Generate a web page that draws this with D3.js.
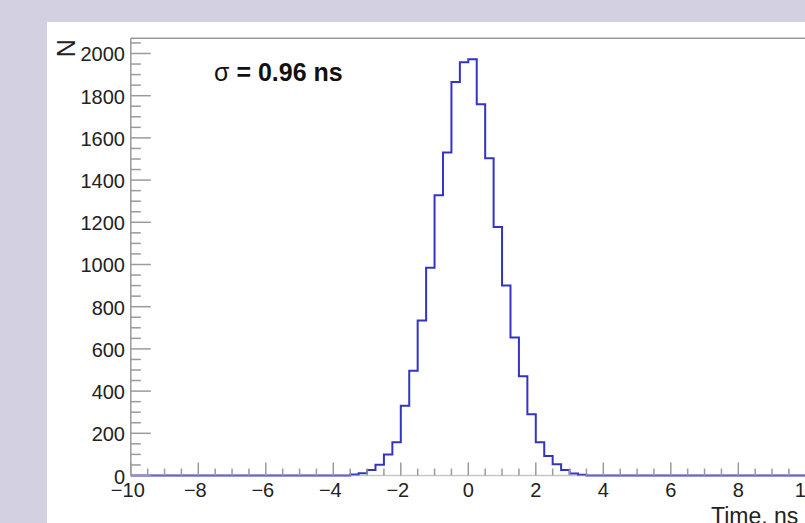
<!DOCTYPE html>
<html>
<head>
<meta charset="utf-8">
<script src="https://cdn.jsdelivr.net/npm/d3@7"></script>
<style>
  html, body { margin: 0; padding: 0; background: #d3d0e1; overflow: hidden; }
  svg { display: block; }
</style>
</head>
<body>
<svg id="chart" width="805" height="523"></svg>
<script>
// histogram: 80 bins of 0.25 ns from -10 to 10, only non-empty part listed
const binStart = -3.5;
const binWidth = 0.25;
const counts = [5, 11, 26, 51, 100, 158, 331, 496, 735, 985, 1328, 1531, 1865, 1958,
                1973, 1759, 1503, 1178, 900, 654, 470, 290, 157, 93, 53, 26, 10, 4];
const xTicks = [-10, -8, -6, -4, -2, 0, 2, 4, 6, 8, 10];
const yTicks = [0, 200, 400, 600, 800, 1000, 1200, 1400, 1600, 1800, 2000];
const xRange = [-10, 10];
const yMax = 2072;

const svg = d3.select('#chart');

// white pad
svg.append('rect')
  .attr('x', 47).attr('y', 22)
  .attr('width', 805).attr('height', 523)
  .attr('fill', '#ffffff');

const frameL = 130.8, frameR = 805.8, frameT = 38.3, frameB = 475.5;

const x = d3.scaleLinear().domain(xRange).range([frameL, frameR]);
const y = d3.scaleLinear().domain([0, yMax]).range([frameB, frameT]);

// full bin list incl. empty bins
const bins = d3.range(80).map(i => {
  const x0 = xRange[0] + i * binWidth;
  const k = Math.round((x0 - binStart) / binWidth);
  return { x0, x1: x0 + binWidth, n: (k >= 0 && k < counts.length) ? counts[k] : 0 };
});

// histogram outline as steps
let pts = [[x(xRange[0]), y(0)]];
bins.forEach(b => {
  pts.push([x(b.x0), y(b.n)]);
  pts.push([x(b.x1), y(b.n)]);
});
pts.push([x(xRange[1]), y(0)]);

svg.append('path')
  .attr('d', d3.line()(pts))
  .attr('fill', 'none')
  .attr('stroke', '#3434c4')
  .attr('stroke-width', 2);

const axisColor = '#9a9a9a';

// frame lines
svg.append('line')
  .attr('x1', frameL).attr('x2', frameR).attr('y1', frameT).attr('y2', frameT)
  .attr('stroke', axisColor).attr('stroke-width', 1.5);
svg.append('line')
  .attr('x1', frameL).attr('x2', frameL).attr('y1', frameT).attr('y2', frameB)
  .attr('stroke', axisColor).attr('stroke-width', 1.5);
svg.append('line')
  .attr('x1', frameL).attr('x2', frameR).attr('y1', frameB).attr('y2', frameB)
  .attr('stroke', axisColor).attr('stroke-width', 1.5).attr('opacity', 0.55);

// x ticks
const xMinor = d3.range(xRange[0], xRange[1] + 0.01, 0.5);
svg.append('g').selectAll('line')
  .data(xMinor)
  .join('line')
  .attr('x1', d => x(d)).attr('x2', d => x(d))
  .attr('y1', frameB)
  .attr('y2', d => frameB - (Math.abs(d % 2) < 1e-6 ? 13 : 7))
  .attr('stroke', axisColor).attr('stroke-width', 1.5);

// y ticks
const yMinor = d3.range(0, yMax, 50);
svg.append('g').selectAll('line')
  .data(yMinor)
  .join('line')
  .attr('x1', frameL)
  .attr('x2', d => frameL + (d % 200 === 0 ? 20 : 10))
  .attr('y1', d => y(d)).attr('y2', d => y(d))
  .attr('stroke', axisColor).attr('stroke-width', 1.5);

const font = '"Liberation Sans", Arial, Helvetica, sans-serif';

// x tick labels
svg.append('g').selectAll('text')
  .data(xTicks)
  .join('text')
  .attr('x', d => x(d) - (d < 0 ? 3 : 0))
  .attr('y', 497)
  .attr('text-anchor', 'middle')
  .attr('font-family', font)
  .attr('font-size', 20)
  .attr('fill', '#222')
  .text(d => d < 0 ? '\u2212' + Math.abs(d) : d);

// y tick labels
svg.append('g').selectAll('text')
  .data(yTicks)
  .join('text')
  .attr('x', 125)
  .attr('y', d => y(d) + 8)
  .attr('text-anchor', 'end')
  .attr('font-family', font)
  .attr('font-size', 20)
  .attr('fill', '#222')
  .text(d => d);

// axis titles
svg.append('text')
  .attr('x', 711)
  .attr('y', 524)
  .attr('font-family', font)
  .attr('font-size', 23)
  .attr('fill', '#222')
  .text('Time, ns');

svg.append('text')
  .attr('transform', `translate(75, ${frameT + 1}) rotate(-90)`)
  .attr('text-anchor', 'end')
  .attr('font-family', font)
  .attr('font-size', 25)
  .attr('fill', '#222')
  .text('N');

// sigma label
svg.append('text')
  .attr('x', 214)
  .attr('y', 81)
  .attr('font-family', font)
  .attr('font-size', 25)
  .attr('font-weight', 'bold')
  .attr('fill', '#111')
  .call(t => t.append('tspan').attr('font-weight', 'normal').text('σ'))
  .call(t => t.append('tspan').text(' = 0.96 ns'));
</script>
</body>
</html>
